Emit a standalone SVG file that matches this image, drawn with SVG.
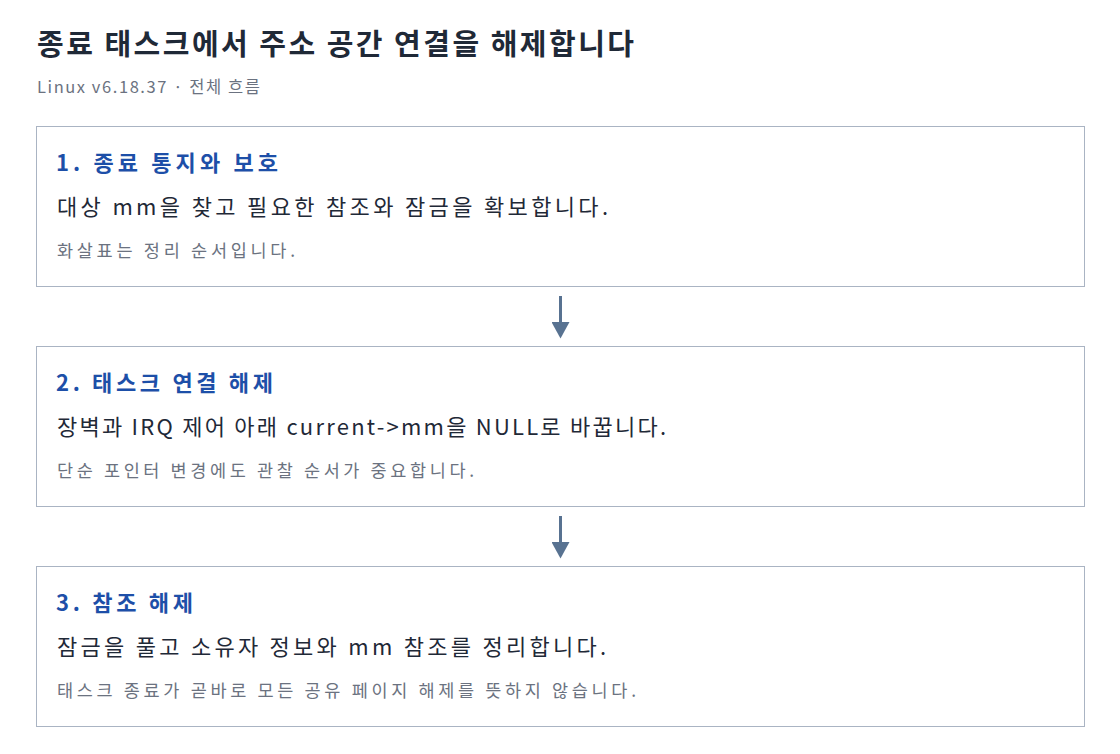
<svg xmlns="http://www.w3.org/2000/svg" width="1120" height="754" viewBox="0 0 1120 754">
<style>
text{font-family:"Noto Sans CJK KR","Noto Sans",sans-serif}
.title{font-size:29px;font-weight:700;fill:#1f2937}
.sub{font-size:16.5px;fill:#6b7280}
.box{fill:#ffffff;stroke:#aab4c3;stroke-width:1}
.h{font-size:22px;font-weight:700;fill:#1d4fa8}
.b{font-size:22px;fill:#1f2937}
.n{font-size:17.5px;fill:#6b7280}
.conn{stroke:#587291;stroke-width:3;fill:none}
</style>
<defs>
<marker id="ah" markerWidth="6" markerHeight="6" refX="0" refY="3" orient="auto" markerUnits="strokeWidth">
<path d="M0,0 L5.5,3 L0,6 Z" fill="#587291"/>
</marker>
</defs>
<rect width="1120" height="754" fill="#ffffff"/>
<text class="title" x="37" y="55" textLength="597" lengthAdjust="spacing">종료 태스크에서 주소 공간 연결을 해제합니다</text>
<text class="sub" x="37" y="93" textLength="223" lengthAdjust="spacing">Linux v6.18.37 · 전체 흐름</text>
<g id="node1">
<rect class="box" x="36.5" y="126.5" width="1048" height="160"/>
<text class="h" x="56" y="171" textLength="222" lengthAdjust="spacing">1. 종료 통지와 보호</text>
<text class="b" x="57" y="215" textLength="551" lengthAdjust="spacing">대상 mm을 찾고 필요한 참조와 잠금을 확보합니다.</text>
<text class="n" x="57" y="257" textLength="238" lengthAdjust="spacing">화살표는 정리 순서입니다.</text>
</g>
<g id="node2">
<rect class="box" x="36.5" y="346.5" width="1048" height="160"/>
<text class="h" x="56" y="391" textLength="217" lengthAdjust="spacing">2. 태스크 연결 해제</text>
<text class="b" x="57" y="435" textLength="609" lengthAdjust="spacing">장벽과 IRQ 제어 아래 current-&gt;mm을 NULL로 바꿉니다.</text>
<text class="n" x="57" y="477" textLength="417" lengthAdjust="spacing">단순 포인터 변경에도 관찰 순서가 중요합니다.</text>
</g>
<g id="node3">
<rect class="box" x="36.5" y="566.5" width="1048" height="160"/>
<text class="h" x="56" y="611" textLength="137" lengthAdjust="spacing">3. 참조 해제</text>
<text class="b" x="57" y="655" textLength="549" lengthAdjust="spacing">잠금을 풀고 소유자 정보와 mm 참조를 정리합니다.</text>
<text class="n" x="57" y="697" textLength="579" lengthAdjust="spacing">태스크 종료가 곧바로 모든 공유 페이지 해제를 뜻하지 않습니다.</text>
</g>
<g id="connectors">
<path class="conn" d="M560.5,296 L560.5,322" marker-end="url(#ah)"/>
<path class="conn" d="M560.5,516 L560.5,542" marker-end="url(#ah)"/>
</g>
</svg>
